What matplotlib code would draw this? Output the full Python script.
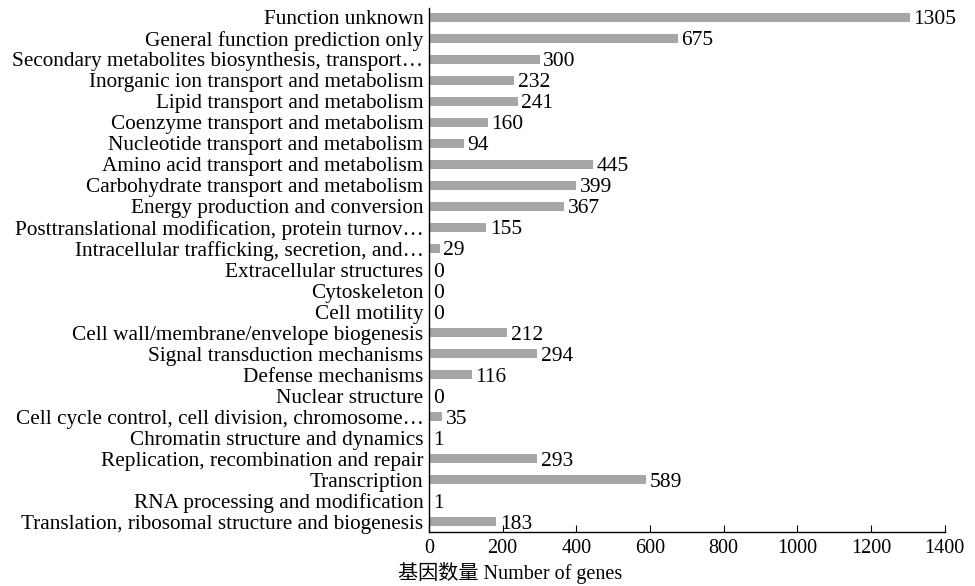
import numpy as np
import matplotlib.pyplot as plt
import matplotlib as mpl

mpl.rcParams['font.family'] = ['Liberation Serif', 'Noto Sans CJK SC']

# categories from top to bottom
categories = [
    "Function unknown",
    "General function prediction only",
    "Secondary metabolites biosynthesis, transport\u2026",
    "Inorganic ion transport and metabolism",
    "Lipid transport and metabolism",
    "Coenzyme transport and metabolism",
    "Nucleotide transport and metabolism",
    "Amino acid transport and metabolism",
    "Carbohydrate transport and metabolism",
    "Energy production and conversion",
    "Posttranslational modification, protein turnov\u2026",
    "Intracellular trafficking, secretion, and\u2026",
    "Extracellular structures",
    "Cytoskeleton",
    "Cell motility",
    "Cell wall/membrane/envelope biogenesis",
    "Signal transduction mechanisms",
    "Defense mechanisms",
    "Nuclear structure",
    "Cell cycle control, cell division, chromosome\u2026",
    "Chromatin structure and dynamics",
    "Replication, recombination and repair",
    "Transcription",
    "RNA processing and modification",
    "Translation, ribosomal structure and biogenesis",
]
counts = [1305, 675, 300, 232, 241, 160, 94, 445, 399, 367, 155, 29, 0, 0, 0,
          212, 294, 116, 0, 35, 1, 293, 589, 1, 183]
xticks = [0, 200, 400, 600, 800, 1000, 1200, 1400]

fig = plt.figure(figsize=(9.75, 5.86), dpi=100)
ax = fig.add_axes([0.44, 0.0927, 0.529, 0.893])

n = len(categories)
ypos = np.arange(n)[::-1]
ax.barh(ypos, counts, height=0.4, color='#a6a6a9')
for y, v in zip(ypos, counts):
    ax.text(v + 10, y, str(v), va='center_baseline', ha='left', fontsize=15.5)

ax.set_yticks(ypos)
ax.set_yticklabels(categories, fontsize=15.3)
ax.set_ylim(-0.48, n - 1 + 0.43)
ax.set_xlim(0, 1400)
ax.set_xticks(xticks)
ax.set_xticklabels([str(t) for t in xticks], fontsize=14.5)
ax.tick_params(axis='y', length=0, pad=4)
ax.tick_params(axis='x', direction='in', length=5, pad=5)

for s in ['top', 'right']:
    ax.spines[s].set_visible(False)
ax.spines['left'].set_linewidth(1.0)
ax.spines['bottom'].set_linewidth(1.0)

ax.set_xlabel("基因数量 Number of genes", fontsize=14.5)
ax.xaxis.set_label_coords(0.157, -0.057)

fig.savefig("out.png", dpi=100)
